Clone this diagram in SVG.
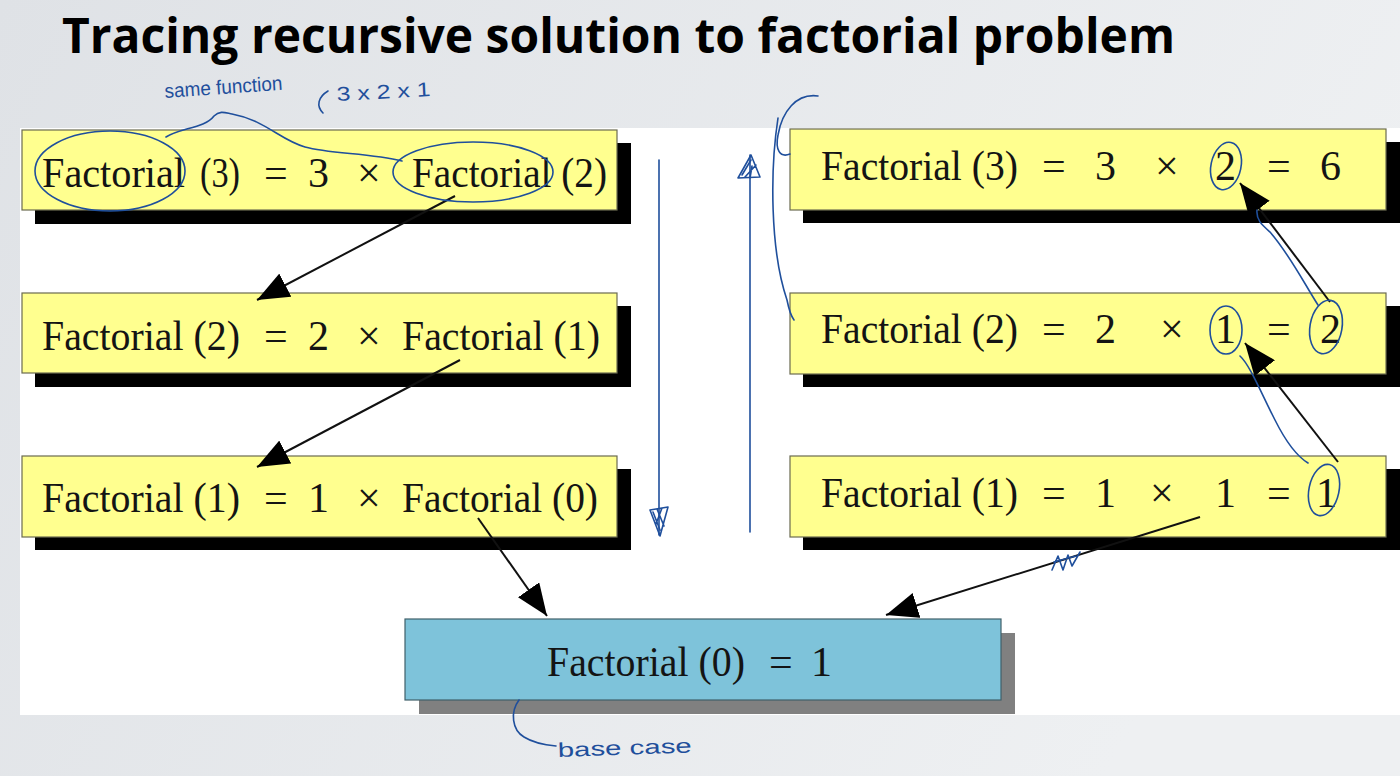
<svg xmlns="http://www.w3.org/2000/svg" width="1400" height="776" viewBox="0 0 1400 776">
  <defs>
    <linearGradient id="bg" x1="0" y1="0" x2="1" y2="0.3">
      <stop offset="0" stop-color="#dfe2e6"/>
      <stop offset="1" stop-color="#eef0f2"/>
    </linearGradient>
    <marker id="head" viewBox="0 0 32 26" refX="32" refY="13" markerWidth="32" markerHeight="26" orient="auto" markerUnits="userSpaceOnUse">
      <path d="M0,0 L32,13 L0,26 z" fill="#000"/>
    </marker>
    <style>
      .box { fill: #ffff8f; stroke: #6b6b50; stroke-width: 1.2; }
      .base { fill: #7ec3da; stroke: #40606a; stroke-width: 1.2; }
      .shadow { fill: #000; }
      .gshadow { fill: #808080; }
      .t { font-family: "Liberation Serif", "DejaVu Serif", serif; font-size: 42px; fill: #141414; }
      .conn { stroke: #111; stroke-width: 2; fill: none; marker-end: url(#head); }
      .ink { stroke: #1f4f9c; stroke-width: 1.6; fill: none; stroke-linecap: round; stroke-linejoin: round; }
      .inktext { font-family: "Liberation Sans Narrow", "Liberation Sans", "DejaVu Sans", sans-serif; font-size: 20px; fill: #1f4f9c; }
      .title { font-family: "Open Sans", "Liberation Sans", sans-serif; font-weight: 700; font-size: 48px; fill: #000; }
    </style>
  </defs>

  <!-- slide background and white figure panel -->
  <rect x="0" y="0" width="1400" height="776" fill="url(#bg)"/>
  <rect x="20" y="128" width="1380" height="587" fill="#fff"/>

  <text class="title" x="62" y="53" textLength="1113" lengthAdjust="spacingAndGlyphs">Tracing recursive solution to factorial problem</text>

  <!-- descending calls (left column) -->
  <g id="call3">
    <rect class="shadow" x="35" y="143" width="596" height="81"/>
    <rect class="box" x="22" y="130" width="595" height="80"/>
    <text class="t" x="42" y="187" textLength="143" lengthAdjust="spacingAndGlyphs">Factorial</text>
    <text class="t" x="200" y="187" textLength="40" lengthAdjust="spacingAndGlyphs">(3)</text>
    <text class="t" x="264" y="187">=</text>
    <text class="t" x="308" y="187">3</text>
    <text class="t" x="357" y="187">×</text>
    <text class="t" x="412" y="187" textLength="195" lengthAdjust="spacingAndGlyphs">Factorial (2)</text>
  </g>
  <g id="call2">
    <rect class="shadow" x="35" y="306" width="596" height="81"/>
    <rect class="box" x="22" y="293" width="595" height="80"/>
    <text class="t" x="42" y="350" textLength="198" lengthAdjust="spacingAndGlyphs">Factorial (2)</text>
    <text class="t" x="264" y="350">=</text>
    <text class="t" x="308" y="350">2</text>
    <text class="t" x="357" y="350">×</text>
    <text class="t" x="402" y="350" textLength="198" lengthAdjust="spacingAndGlyphs">Factorial (1)</text>
  </g>
  <g id="call1">
    <rect class="shadow" x="35" y="469" width="596" height="81"/>
    <rect class="box" x="22" y="456" width="595" height="81"/>
    <text class="t" x="42" y="512" textLength="198" lengthAdjust="spacingAndGlyphs">Factorial (1)</text>
    <text class="t" x="264" y="512">=</text>
    <text class="t" x="308" y="512">1</text>
    <text class="t" x="357" y="512">×</text>
    <text class="t" x="402" y="512" textLength="196" lengthAdjust="spacingAndGlyphs">Factorial (0)</text>
  </g>

  <!-- returning values (right column) -->
  <g id="ret3">
    <rect class="shadow" x="803" y="142" width="597" height="81"/>
    <rect class="box" x="790" y="129" width="596" height="81"/>
    <text class="t" x="821" y="180" textLength="197" lengthAdjust="spacingAndGlyphs">Factorial (3)</text>
    <text class="t" x="1042" y="180">=</text>
    <text class="t" x="1095" y="180">3</text>
    <text class="t" x="1155" y="180">×</text>
    <text class="t" x="1215" y="180">2</text>
    <text class="t" x="1267" y="180">=</text>
    <text class="t" x="1320" y="180">6</text>
  </g>
  <g id="ret2">
    <rect class="shadow" x="803" y="306" width="597" height="81"/>
    <rect class="box" x="790" y="293" width="596" height="81"/>
    <text class="t" x="821" y="343" textLength="197" lengthAdjust="spacingAndGlyphs">Factorial (2)</text>
    <text class="t" x="1042" y="343">=</text>
    <text class="t" x="1095" y="343">2</text>
    <text class="t" x="1160" y="343">×</text>
    <text class="t" x="1215" y="343">1</text>
    <text class="t" x="1267" y="343">=</text>
    <text class="t" x="1320" y="343">2</text>
  </g>
  <g id="ret1">
    <rect class="shadow" x="803" y="469" width="597" height="81"/>
    <rect class="box" x="790" y="456" width="596" height="81"/>
    <text class="t" x="821" y="507" textLength="197" lengthAdjust="spacingAndGlyphs">Factorial (1)</text>
    <text class="t" x="1042" y="507">=</text>
    <text class="t" x="1095" y="507">1</text>
    <text class="t" x="1150" y="507">×</text>
    <text class="t" x="1215" y="507">1</text>
    <text class="t" x="1267" y="507">=</text>
    <text class="t" x="1316" y="507">1</text>
  </g>

  <!-- base case -->
  <g id="base">
    <rect class="gshadow" x="419" y="633" width="596" height="81"/>
    <rect class="base" x="405" y="619" width="596" height="81"/>
    <text class="t" x="547" y="676" textLength="198" lengthAdjust="spacingAndGlyphs">Factorial (0)</text>
    <text class="t" x="769" y="676">=</text>
    <text class="t" x="811" y="676">1</text>
  </g>

  <!-- call / return arrows -->
  <g id="connectors">
    <path class="conn" d="M455,196 L257,300"/>
    <path class="conn" d="M460,360 L257,467"/>
    <path class="conn" d="M478,518 L547,616"/>
    <path class="conn" d="M1200,517 L886,615"/>
    <path class="conn" d="M1338,462 L1245,343"/>
    <path class="conn" d="M1330,302 L1240,183"/>
  </g>

  <!-- pen annotations -->
  <g id="notes">
    <ellipse class="ink" cx="110" cy="171" rx="75" ry="40"/>
    <ellipse class="ink" cx="473" cy="172" rx="80" ry="30"/>
    <path class="ink" d="M166,137 C180,128 205,128 214,116 C220,110 226,113 232,114 C265,120 280,140 305,147 C330,154 370,153 402,161"/>
    <text class="inktext" x="165" y="98" textLength="118" lengthAdjust="spacingAndGlyphs" transform="rotate(-4 165 98)">same function</text>
    <path class="ink" d="M323,113 C316,106 318,97 328,91"/>
    <text class="inktext" x="337" y="101" font-size="24" textLength="94" lengthAdjust="spacingAndGlyphs" transform="rotate(-3 337 101)">3 x 2 x 1</text>

    <!-- direction of calls and returns -->
    <path class="ink" d="M659,160 L659,535"/>
    <path class="ink" d="M650,510 L668,507 L660,536 Z M653,512 L660,530 M657,509 L664,526 M662,508 L656,524"/>
    <path class="ink" d="M750,532 L750,155"/>
    <path class="ink" d="M738,178 L751,155 L760,177 Z M742,175 L751,160 M745,177 L756,165 M750,178 L752,166"/>
    <path class="ink" d="M818,96 C796,93 782,112 778,135 C775,150 780,158 790,154"/>
    <path class="ink" d="M778,118 C770,170 770,250 787,300 C789,310 791,316 794,320"/>

    <!-- circled results -->
    <ellipse class="ink" cx="1226" cy="166" rx="15" ry="24" transform="rotate(12 1226 166)"/>
    <ellipse class="ink" cx="1226" cy="330" rx="16" ry="24"/>
    <ellipse class="ink" cx="1326" cy="327" rx="16" ry="27" transform="rotate(10 1326 327)"/>
    <ellipse class="ink" cx="1324" cy="490" rx="15" ry="26" transform="rotate(12 1324 490)"/>
    <path class="ink" d="M1257,210 C1256,220 1262,225 1270,232 C1290,255 1305,285 1318,305"/>
    <path class="ink" d="M1240,356 C1250,365 1262,395 1275,420 C1285,440 1295,455 1308,463"/>

    <path class="ink" d="M1052,570 L1058,556 L1063,570 L1068,555 L1072,566 L1080,552 M1054,562 L1076,556"/>

    <path class="ink" d="M519,700 C510,712 512,730 524,737 C532,742 545,745 556,746"/>
    <text class="inktext" x="558" y="757" font-size="28" textLength="134" lengthAdjust="spacingAndGlyphs" transform="rotate(-2 558 757)">base case</text>
  </g>
</svg>
